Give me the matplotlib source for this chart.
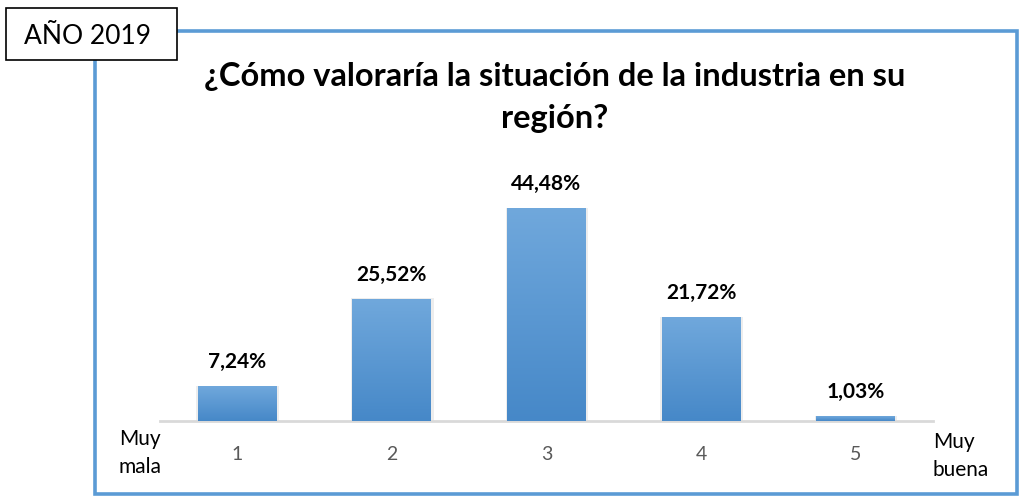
import numpy as np
import matplotlib.pyplot as plt
from matplotlib.patches import Rectangle
from matplotlib.colors import LinearSegmentedColormap

plt.rcParams['font.family'] = ['Lato', 'DejaVu Sans']

# Valoración de la situación de la industria (encuesta 2019)
categorias = ['1', '2', '3', '4', '5']
porcentajes = [7.24, 25.52, 44.48, 21.72, 1.03]
etiquetas = ['7,24%', '25,52%', '44,48%', '21,72%', '1,03%']
titulo = '¿Cómo valoraría la situación de la industria en su\nregión?'

W, H = 1023, 504
fig = plt.figure(figsize=(W / 100, H / 100), dpi=100)
fig.patch.set_facecolor('white')

# marco azul exterior
fig.add_artist(Rectangle((95 / W, 1 - 494 / H), 922 / W, 463 / H,
                         transform=fig.transFigure, fill=False,
                         edgecolor='#5B9BD5', linewidth=2.6, zorder=1))
# recuadro del año
fig.add_artist(Rectangle((6 / W, 1 - 60 / H), 171 / W, 52 / H,
                         transform=fig.transFigure, facecolor='white',
                         edgecolor='black', linewidth=1.2, zorder=2))
fig.text(87 / W, 1 - 36 / H, 'AÑO 2019', ha='center', va='center',
         fontsize=19, color='black', zorder=3)

fig.text(555 / W, 1 - 62 / H, titulo, ha='center', va='top',
         fontsize=23.5, fontweight='bold', linespacing=1.55)

ax = fig.add_axes([160 / W, 1 - 421 / H, 773 / W, 239 / H])
x = np.arange(len(categorias))
bars = ax.bar(x, porcentajes, width=0.51, color='none', zorder=3)

cmap = LinearSegmentedColormap.from_list('azul', ['#4688C8', '#70A8DC'])
grad = np.linspace(0, 1, 256).reshape(-1, 1)
for b, lab in zip(bars, etiquetas):
    bx, by = b.get_x(), b.get_y()
    bw, bh = b.get_width(), b.get_height()
    # sombra suave detrás de la barra
    ax.add_patch(Rectangle((bx - 0.01, by), bw + 0.025, bh + 0.12,
                           facecolor='#dcdcdc', edgecolor='none',
                           alpha=0.5, zorder=2))
    ax.imshow(grad, extent=(bx, bx + bw, by, by + bh), origin='lower',
              cmap=cmap, aspect='auto', zorder=3)
    ax.text(b.get_x() + bw / 2, bh + 3.0, lab, ha='center', va='bottom',
            fontsize=15, fontweight='bold', color='black')

ax.set_xlim(-0.5, len(categorias) - 0.5)
ax.set_ylim(0, 50)
for s in ['top', 'right', 'left']:
    ax.spines[s].set_visible(False)
ax.spines['bottom'].set_color('#d9d9d9')
ax.spines['bottom'].set_linewidth(2)
ax.set_yticks([])
ax.set_xticks(x)
ax.set_xticklabels(categorias, fontsize=14, color='#595959')
ax.tick_params(axis='x', length=0, pad=18)

fig.text(119 / W, 1 - 453 / H, 'Muy\nmala', ha='left', va='center',
         fontsize=15, linespacing=1.45)
fig.text(933 / W, 1 - 456 / H, 'Muy\nbuena', ha='left', va='center',
         fontsize=15, linespacing=1.45)

fig.savefig('out.png', dpi=100)
